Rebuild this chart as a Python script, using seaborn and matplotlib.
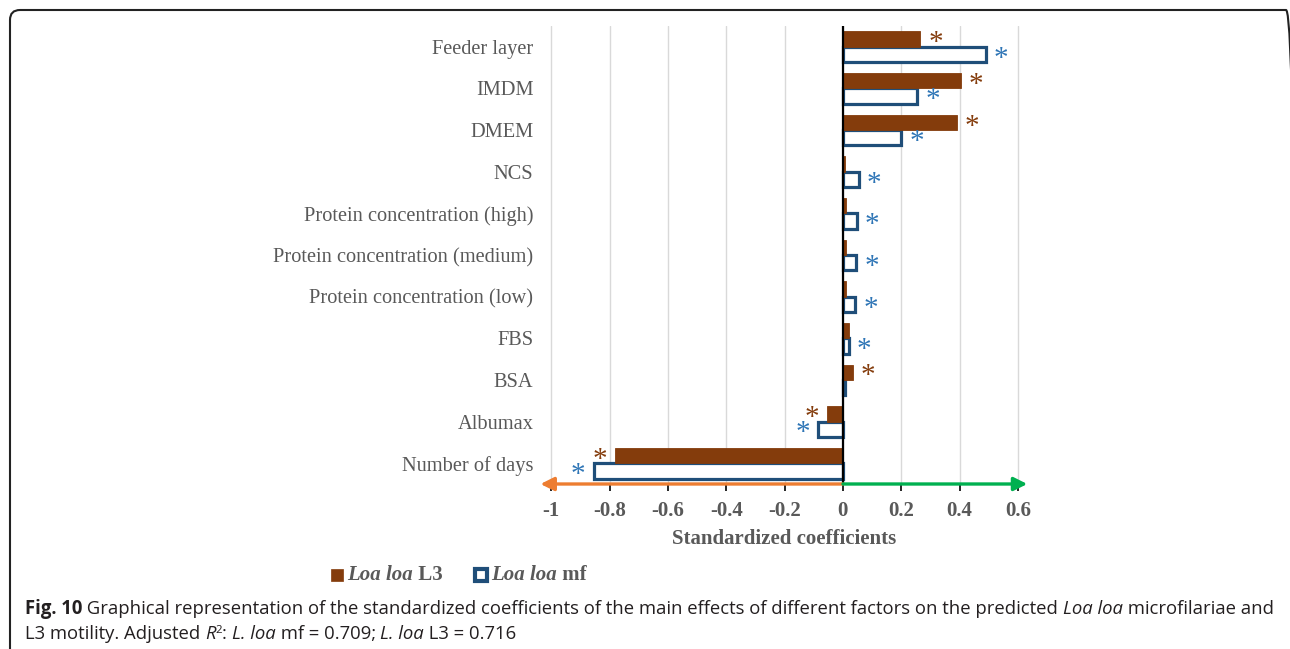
import numpy as np
import pandas as pd
import matplotlib
matplotlib.use("Agg")
import matplotlib.pyplot as plt
import seaborn as sns
from matplotlib.patches import FancyBboxPatch, Rectangle
from matplotlib.transforms import IdentityTransform

# ---------------- data ----------------
categories = ["Feeder layer", "IMDM", "DMEM", "NCS", "Protein concentration (high)",
              "Protein concentration (medium)", "Protein concentration (low)", "FBS",
              "BSA", "Albumax", "Number of days"]
l3_values = [0.265, 0.405, 0.39, 0.008, 0.010, 0.010, 0.012, 0.020, 0.033, -0.055, -0.78]
mf_values = [0.49, 0.255, 0.20, 0.055, 0.048, 0.046, 0.042, 0.020, 0.008, -0.085, -0.855]
l3_signif = [True, True, True, False, False, False, False, False, True, True, True]
mf_signif = [True, True, True, True, True, True, True, True, False, True, True]
series_names = ["Loa loa L3", "Loa loa mf"]
series_suffix = [" L3", " mf"]
x_ticks = [-1, -0.8, -0.6, -0.4, -0.2, 0, 0.2, 0.4, 0.6]
x_tick_labels = ["-1", "-0.8", "-0.6", "-0.4", "-0.2", "0", "0.2", "0.4", "0.6"]
x_label = "Standardized coefficients"

BROWN = "#843C0C"
NAVY = "#1F4E79"
BLUE_STAR = "#2E75B6"
GRAY = "#595959"

W, H = 1290, 649

sns.set_style("white")
plt.rcParams["font.family"] = ["Liberation Serif", "DejaVu Serif"]

fig = plt.figure(figsize=(W / 100, H / 100), dpi=100)
ax = fig.add_axes([539.6 / W, 1 - 484 / H, 490 / W, 458 / H])

df = pd.DataFrame({
    "factor": categories * 2,
    "coef": l3_values + mf_values,
    "series": [series_names[0]] * len(categories) + [series_names[1]] * len(categories),
})

sns.barplot(data=df, x="coef", y="factor", hue="series", hue_order=series_names,
            order=categories, orient="h", width=0.74, dodge=True, legend=False,
            palette=[BROWN, "white"], saturation=1, errorbar=None, ax=ax)

for p in ax.containers[0]:
    p.set_facecolor(BROWN)
    p.set_edgecolor(BROWN)
    p.set_linewidth(0.6)
    p.set_zorder(4)
for p in ax.containers[1]:
    p.set_facecolor("white")
    p.set_edgecolor(NAVY)
    p.set_linewidth(2.3)
    p.set_zorder(3)

ax.set_xlim(-1.04, 0.64)
ax.set_ylim(len(categories) - 0.5, -0.5)

for s in ax.spines.values():
    s.set_visible(False)

ax.grid(axis="x", color="#D9D9D9", lw=1.0)
ax.grid(axis="y", visible=False)
ax.set_axisbelow(True)
ax.axvline(0, color="black", lw=1.6, zorder=6)

ax.set_xticks(x_ticks)
ax.set_xticklabels(x_tick_labels, fontweight="bold", color=GRAY, fontsize=15)
ax.tick_params(axis="x", bottom=True, length=5, width=1.2, color="black", pad=7)
ax.tick_params(axis="y", left=False, pad=1, labelsize=14.7, labelcolor=GRAY)
ax.set_ylabel("")
ax.set_xlabel(x_label, fontweight="bold", color=GRAY, fontsize=15, labelpad=6)

# axis arrows
ybot = len(categories) - 0.5
ax.annotate("", xy=(-1.037, ybot), xytext=(0, ybot),
            arrowprops=dict(arrowstyle="-|>", color="#ED7D31", lw=2.4, shrinkA=0, shrinkB=0,
                            mutation_scale=20), annotation_clip=False, zorder=7)
ax.annotate("", xy=(0.632, ybot), xytext=(0, ybot),
            arrowprops=dict(arrowstyle="-|>", color="#00B050", lw=2.4, shrinkA=0, shrinkB=0,
                            mutation_scale=20), annotation_clip=False, zorder=7)

# significance asterisks
for i in range(len(categories)):
    if l3_signif[i]:
        v = l3_values[i]
        sgn = 1 if v >= 0 else -1
        ax.annotate("*", xy=(v, i - 0.185), xytext=(sgn * 11, -3), textcoords="offset points",
                    ha="center", va="center", color=BROWN, fontsize=21, zorder=8)
    if mf_signif[i]:
        v = mf_values[i]
        sgn = 1 if v >= 0 else -1
        ax.annotate("*", xy=(v, i + 0.185), xytext=(sgn * 11, -3), textcoords="offset points",
                    ha="center", va="center", color=BLUE_STAR, fontsize=21, zorder=8)

# frame
frame = FancyBboxPatch((10, -40), 1286, H - 10 + 40, boxstyle="round,pad=0,rounding_size=10",
                       transform=IdentityTransform(), fill=False, ec="#222222", lw=1.5)
fig.add_artist(frame)

renderer = fig.canvas.get_renderer()


def text_width(s, size, family, style="normal", weight="normal"):
    t = fig.text(0, 0, "x" + s + "x", fontsize=size, fontstyle=style, fontweight=weight,
                 family=family)
    t2 = fig.text(0, 0, "xx", fontsize=size, fontstyle=style, fontweight=weight,
                  family=family)
    w = t.get_window_extent(renderer).width - t2.get_window_extent(renderer).width
    t.remove()
    t2.remove()
    return w


def draw_runs(runs, x0, ybase, size, family, color):
    x = x0
    for t, st, wt, sup in runs:
        sz = size * (0.62 if sup else 1.0)
        yy = ybase - (6 if sup else 0)
        fig.text(x / W, 1 - yy / H, t, fontsize=sz, fontstyle=st, fontweight=wt,
                 family=family, color=color, ha="left", va="baseline")
        x += text_width(t, sz, family, st, wt)
    return x


# legend (manual, mixed italic/bold text)
leg_y_center = 575
leg_items = [(331, BROWN, BROWN, 0.5), (475, "white", NAVY, 3.0)]
for (x0, fc, ec, lw), suffix in zip(leg_items, series_suffix):
    fig.add_artist(Rectangle((x0, H - leg_y_center - 6), 12, 12, transform=IdentityTransform(),
                             fc=fc, ec=ec, lw=lw))
    draw_runs([("Loa loa", "italic", "bold", 0), (suffix, "normal", "bold", 0)],
              x0 + 16, leg_y_center + 5, 15, "Liberation Serif", GRAY)

# caption with mixed styles
CAP_FONT = "Open Sans"
CAP_COLOR = "#231F20"

line1 = [("Fig. 10", "normal", "bold", 0),
         (" Graphical representation of the standardized coefficients of the main effects of different factors on the predicted ", "normal", "normal", 0),
         ("Loa loa", "italic", "normal", 0),
         (" microfilariae and", "normal", "normal", 0)]
line2 = [("L3 motility. Adjusted ", "normal", "normal", 0),
         ("R", "italic", "normal", 0),
         ("2", "normal", "normal", 1),
         (": ", "normal", "normal", 0),
         ("L. loa", "italic", "normal", 0),
         (" mf = 0.709; ", "normal", "normal", 0),
         ("L. loa", "italic", "normal", 0),
         (" L3 = 0.716", "normal", "normal", 0)]

base_size = 11.0
w1 = sum(text_width(t, base_size, CAP_FONT, st, wt) for t, st, wt, _ in line1)
cap_size = base_size * (1253 / w1)

draw_runs(line1, 25, 614, cap_size, CAP_FONT, CAP_COLOR)
draw_runs(line2, 25, 639, cap_size, CAP_FONT, CAP_COLOR)

fig.savefig("out.png", dpi=100)
